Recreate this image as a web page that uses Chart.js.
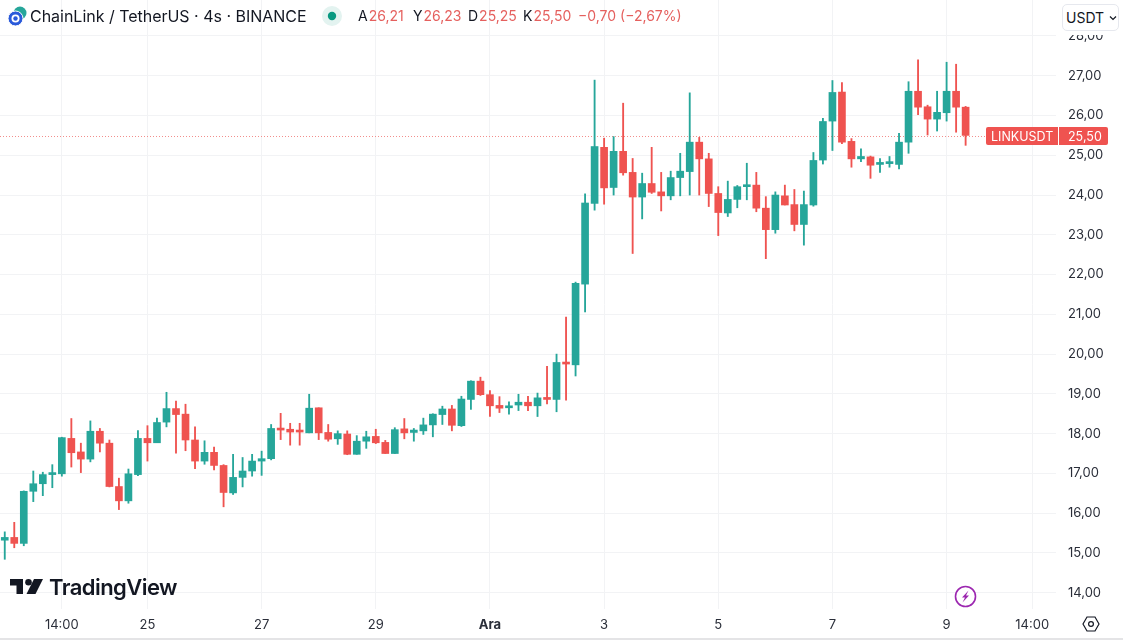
<!DOCTYPE html>
<html>
<head>
<meta charset="utf-8">
<title>LINKUSDT</title>
<script src="https://cdn.jsdelivr.net/npm/chart.js@4"></script>
<style>
  html, body { margin: 0; padding: 0; background: #fff; overflow: hidden; }
  body { font-family: Inter, "Noto Sans", sans-serif; color: #131722; }
  #wrap { position: relative; width: 1123px; height: 640px; }
  canvas { position: absolute; left: 0; top: 0; }
  .abs { position: absolute; white-space: nowrap; }
  #title { left: 30px; top: 6px; font-size: 16px; line-height: 20px; letter-spacing: -0.02px; }
  .q { top: 7px; font-size: 14px; line-height: 18px; color: #e5605e; }
  .q b { font-weight: 400; color: #131722; margin-right: 1px; }
  #axiscover { left: 1058px; top: 0; width: 65px; height: 35px; background: #fff; }
  #usdt { left: 1062px; top: 4px; height: 25px; width: 52px; border: 1px solid #e6e8ee; border-radius: 5px;
          background: #fff; font-size: 14px; line-height: 25px; padding-left: 3px; }
  #brand { left: 49px; top: 574px; font-size: 22px; line-height: 26px; font-weight: 600; letter-spacing: -0.55px; color: #131722; }
  #bottomline { left: 0; top: 638px; width: 1123px; height: 2px; background: #e4e4e6; }
</style>
</head>
<body>
<div id="wrap">
  <canvas id="chart" width="1123" height="640"></canvas>

  <svg class="abs" style="left:6px;top:5px" width="22" height="22" viewBox="0 0 22 22">
    <circle cx="14" cy="8" r="6.5" fill="#26a69a"/>
    <circle cx="9.5" cy="13.5" r="7.5" fill="#2a5ada" stroke="#fff" stroke-width="1"/>
    <circle cx="9.5" cy="13.5" r="4" fill="#fff"/>
    <circle cx="9.5" cy="13.5" r="2.2" fill="#2a5ada"/>
  </svg>
  <div class="abs" id="title">ChainLink / TetherUS · 4s · BINANCE</div>
  <svg class="abs" style="left:321px;top:5px" width="22" height="22" viewBox="0 0 22 22">
    <circle cx="11" cy="11" r="10" fill="#e3f3f0"/>
    <circle cx="11" cy="11" r="4.2" fill="#089981"/>
  </svg>
  <div class="abs q" style="left:358px"><b>A</b>26,21</div>
  <div class="abs q" style="left:413px"><b>Y</b>26,23</div>
  <div class="abs q" style="left:468px"><b>D</b>25,25</div>
  <div class="abs q" style="left:523px"><b>K</b>25,50</div>
  <div class="abs q" style="left:578px">−0,70 (−2,67%)</div>

  <div class="abs" id="axiscover"></div>
  <div class="abs" id="usdt">USDT<svg style="position:absolute;left:46px;top:10px" width="8" height="6" viewBox="0 0 8 6"><path d="M1 1.5 L4 4.5 L7 1.5" fill="none" stroke="#131722" stroke-width="1.2"/></svg></div>

  <svg class="abs" style="left:10px;top:578px" width="36" height="18" viewBox="0 0 36 18">
    <path d="M0 1 H13 V16 H6.5 V7.5 H0 Z" fill="#131722"/>
    <circle cx="18.5" cy="4.3" r="3.3" fill="#131722"/>
    <path d="M24 1 H33 L25.5 16 H16.5 Z" fill="#131722"/>
  </svg>
  <div class="abs" id="brand">TradingView</div>

  <svg class="abs" style="left:954px;top:585px" width="23" height="23" viewBox="0 0 23 23">
    <circle cx="11.5" cy="11.5" r="10" fill="#fff" stroke="#9c27b0" stroke-width="1.6"/>
    <path d="M14.5 5.5 L8 12.5 H11 L8.5 17.5 L15 10.5 H12 Z" fill="#9c27b0"/>
  </svg>
  <svg class="abs" style="left:1082px;top:616px" width="18" height="16" viewBox="0 0 18 16">
    <path d="M5 1 H13 L17 8 L13 15 H5 L1 8 Z" fill="none" stroke="#131722" stroke-width="1.2"/>
    <circle cx="9" cy="8" r="2.4" fill="none" stroke="#131722" stroke-width="1.2"/>
  </svg>
  <div class="abs" id="bottomline"></div>
</div>

<script>
const opens = [15.32,15.39,15.24,16.55,16.74,16.97,16.99,17.88,17.54,17.36,18.06,17.76,16.67,16.31,16.97,17.88,17.77,18.29,18.63,18.49,17.84,17.31,17.53,17.20,16.51,16.90,17.06,17.31,17.37,18.14,18.11,18.07,18.02,18.65,18.03,17.87,17.99,17.48,17.81,17.93,17.78,17.50,18.12,18.03,18.07,18.22,18.48,18.62,18.20,18.86,19.32,18.98,18.71,18.65,18.72,18.79,18.70,18.90,18.86,19.78,19.73,21.76,23.79,25.20,24.19,25.10,24.57,23.95,24.29,24.08,23.98,24.44,24.59,25.33,24.91,24.04,23.55,23.89,24.21,24.25,23.67,23.13,23.98,23.76,23.26,23.75,24.88,25.86,26.59,25.35,24.91,24.96,24.77,24.79,24.77,25.33,26.61,26.22,25.91,26.07,26.61,26.21];
const highs = [15.53,15.77,16.56,17.06,17.03,17.22,17.91,18.38,17.76,18.32,18.13,17.84,16.88,17.11,18.08,18.20,18.39,19.04,18.82,18.74,18.17,17.82,17.66,17.22,17.48,17.40,17.48,17.56,18.23,18.51,18.26,18.26,18.99,18.65,18.23,18.07,18.07,17.95,18.06,18.11,17.83,18.15,18.38,18.13,18.39,18.50,18.69,18.71,18.94,19.33,19.42,19.08,18.93,18.80,18.99,18.94,19.02,19.69,20.00,20.93,21.81,24.03,26.89,25.43,25.47,26.31,24.92,24.55,25.20,24.57,24.60,25.05,26.57,25.45,25.05,24.21,24.35,24.24,24.80,24.57,23.96,24.08,24.25,24.14,24.10,25.07,25.93,26.88,26.83,25.42,25.16,24.98,24.92,24.97,25.55,26.85,27.40,26.26,26.61,27.34,27.29,26.23];
const lows = [14.84,15.13,15.18,16.29,16.44,16.64,16.93,17.16,17.02,17.29,17.54,16.66,16.09,16.25,16.94,17.31,17.77,18.17,17.51,17.57,17.12,17.23,17.09,16.16,16.47,16.66,16.93,16.95,17.34,17.85,17.71,17.71,18.02,17.85,17.81,17.73,17.47,17.48,17.63,17.75,17.50,17.50,17.87,17.81,17.98,17.92,18.23,18.07,18.18,18.61,18.96,18.43,18.53,18.49,18.58,18.58,18.43,18.75,18.55,18.84,19.45,21.06,23.62,23.77,24.00,24.50,22.53,23.40,24.04,23.60,23.88,23.98,24.00,24.00,23.71,22.98,23.46,23.68,23.88,23.58,22.40,23.04,23.75,23.10,22.74,23.72,24.78,25.12,25.29,24.70,24.84,24.42,24.57,24.70,24.66,25.05,26.02,25.51,25.61,25.86,25.58,25.25];
const closes = [15.39,15.24,16.55,16.74,16.97,17.01,17.90,17.52,17.36,18.06,17.76,16.67,16.31,16.99,17.88,17.77,18.28,18.63,18.48,17.84,17.31,17.53,17.20,16.52,16.90,17.06,17.31,17.37,18.13,18.09,18.04,18.04,18.64,18.02,17.86,18.00,17.48,17.81,17.92,17.77,17.50,18.10,18.02,18.09,18.22,18.49,18.62,18.21,18.87,19.32,18.98,18.70,18.64,18.70,18.79,18.70,18.90,18.86,19.79,19.75,21.78,23.80,25.22,24.18,25.10,24.56,23.95,24.29,24.07,23.98,24.44,24.60,25.33,24.91,24.04,23.56,23.89,24.21,24.25,23.67,23.13,24.00,23.75,23.26,23.76,24.87,25.85,26.58,25.33,24.91,24.97,24.75,24.80,24.81,25.33,26.61,26.21,25.91,26.08,26.61,26.21,25.50];

// bar index -> axis label
const tickIndexes = [6, 15, 27, 39, 51, 63, 75, 87, 99, 108];
const tickLabels = ["14:00", "25", "27", "29", "Ara", "3", "5", "7", "9", "14:00"];
const priceTicks = [14, 15, 16, 17, 18, 19, 20, 21, 22, 23, 24, 25, 26, 27, 28];
const barSlots = 111;

const green = "#26a69a";
const red = "#ef5350";
const gridColor = "#f2f3f5";
const textColor = "#2a2e39";

const categories = new Array(barSlots).fill("");
tickIndexes.forEach((idx, i) => { categories[idx] = tickLabels[i]; });

const barColors = opens.map((o, i) => closes[i] < o ? red : green);
const wicks = lows.map((l, i) => [l, highs[i]]);
const bodies = opens.map((o, i) => [o, closes[i]]);

function priceText(v) {
  return v.toFixed(2).replace(".", ",");
}

// dotted last price line + red label on the axis
const lastPrice = {
  id: "lastPrice",
  beforeDatasetsDraw(chart) {
    const y = Math.ceil(chart.scales.y.getPixelForValue(closes[closes.length - 1])) + 0.5;
    const ctx = chart.ctx;
    ctx.save();
    ctx.strokeStyle = "#f28e8c";
    ctx.setLineDash([1, 2]);
    ctx.lineWidth = 1;
    ctx.beginPath();
    ctx.moveTo(0, y);
    ctx.lineTo(986, y);
    ctx.stroke();
    ctx.restore();
  },
  afterDraw(chart) {
    const close = closes[closes.length - 1];
    const y = Math.ceil(chart.scales.y.getPixelForValue(close));
    const ctx = chart.ctx;
    ctx.save();
    ctx.fillStyle = red;
    ctx.beginPath();
    ctx.roundRect(986, y - 9, 122, 18, 2);
    ctx.fill();
    ctx.fillStyle = "#fff";
    ctx.fillRect(1058, y - 9, 1, 18);
    ctx.font = "12.5px Inter";
    ctx.textBaseline = "middle";
    ctx.fillText("LINKUSDT", 991, y + 1);
    ctx.fillText(priceText(close), 1068, y + 1);
    ctx.restore();
  }
};

new Chart(document.getElementById("chart"), {
  type: "bar",
  plugins: [lastPrice],
  data: {
    labels: categories,
    datasets: [
      { label: "wick", data: wicks, backgroundColor: barColors, barThickness: 1.2, grouped: false, order: 2 },
      { label: "body", data: bodies, backgroundColor: barColors, barThickness: 7, minBarLength: 2, grouped: false, order: 1 }
    ]
  },
  options: {
    responsive: false,
    animation: false,
    layout: { padding: 0 },
    plugins: { legend: { display: false }, tooltip: { enabled: false } },
    scales: {
      x: {
        position: "bottom",
        afterFit(scale) { scale.height = 31; scale.paddingLeft = 0; scale.paddingRight = 0; },
        border: { display: false },
        // empty labels return null below, so only the labelled bars keep a tick and grid line
        grid: { offset: false, drawTicks: false, color: gridColor },
        ticks: {
          autoSkip: false,
          maxRotation: 0,
          padding: 8,
          color: textColor,
          font: ctx => ({ family: "Inter", size: 13, weight: ctx.tick && ctx.tick.label === "Ara" ? "bold" : "normal" }),
          callback: (v, i) => categories[i] || null
        }
      },
      y: {
        position: "right",
        min: 13.59,
        max: 28.905,
        afterFit(scale) { scale.width = 67; scale.paddingTop = 0; scale.paddingBottom = 0; },
        afterBuildTicks(scale) { scale.ticks = priceTicks.map(value => ({ value })); },
        border: { display: false },
        grid: { color: gridColor, drawTicks: false },
        ticks: {
          padding: 12,
          color: textColor,
          font: { family: "Inter", size: 13 },
          callback: v => priceText(v)
        }
      }
    }
  }
});
</script>
</body>
</html>
